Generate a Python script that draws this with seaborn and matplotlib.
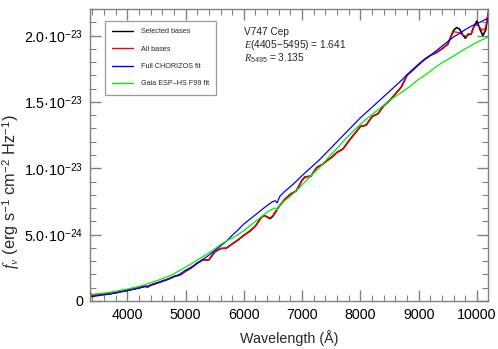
import numpy as np
import pandas as pd
import matplotlib
matplotlib.use("Agg")
import matplotlib.pyplot as plt
import seaborn as sns
from matplotlib.ticker import MultipleLocator, FuncFormatter

# ---- data (flux in units of 1e-24 erg s^-1 cm^-2 Hz^-1) ----
SCALE = 1e-24

wl_sel = [3360, 3400, 3500, 3550, 3600, 3700, 3800, 3900, 4000, 4100, 4200, 4300, 4350, 4400,
          4500, 4600, 4700, 4800, 4900, 5000, 5100, 5200, 5300, 5400, 5500, 5600, 5700, 5800,
          5900, 6000, 6100, 6200, 6300, 6350, 6450, 6500, 6600, 6700, 6800, 6900, 7000, 7050,
          7150, 7250, 7350, 7450, 7500, 7600, 7700, 7800, 7900, 8000, 8100, 8200, 8300, 8400,
          8500, 8600, 8700, 8800, 8900, 9000, 9100, 9200, 9300, 9400, 9500, 9550, 9600, 9650,
          9700, 9750, 9800, 9850, 9900, 9950, 10000, 10050, 10100, 10150, 10200]
flux_sel = [0.60, 0.40, 0.47, 0.53, 0.50, 0.55, 0.62, 0.72, 0.80, 0.90, 1.00, 1.12, 1.05, 1.20,
            1.35, 1.50, 1.65, 1.85, 1.95, 2.25, 2.50, 2.85, 3.10, 3.10, 3.70, 3.95, 3.98, 4.30,
            4.60, 4.95, 5.25, 5.65, 6.30, 6.45, 6.20, 6.40, 7.10, 7.65, 8.05, 8.30, 9.10, 9.35,
            9.40, 10.05, 10.30, 10.65, 10.80, 11.20, 11.45, 12.05, 12.60, 13.15, 13.25, 13.90, 14.10, 14.70,
            15.10, 15.60, 16.10, 17.00, 17.40, 17.80, 18.20, 18.50, 18.70, 19.00, 19.35, 19.90, 20.40, 20.60,
            20.50, 20.10, 19.80, 20.10, 20.10, 20.70, 21.10, 20.50, 20.00, 20.40, 21.80]

wl_all = [3360, 3400, 3500, 3550, 3600, 3700, 3800, 3900, 4000, 4100, 4200, 4300, 4350, 4400,
          4500, 4600, 4700, 4800, 4900, 5000, 5100, 5200, 5300, 5400, 5500, 5600, 5700, 5800,
          5900, 6000, 6100, 6200, 6300, 6350, 6450, 6500, 6600, 6700, 6800, 6900, 7000, 7050,
          7150, 7250, 7350, 7450, 7500, 7600, 7700, 7800, 7900, 8000, 8100, 8200, 8300, 8400,
          8500, 8600, 8700, 8800, 8900, 9000, 9100, 9200, 9300, 9400, 9500, 9550, 9600, 9700,
          9800, 9900, 9950, 10000, 10050, 10100, 10150, 10200]
flux_all = [0.68, 0.42, 0.48, 0.55, 0.50, 0.55, 0.62, 0.72, 0.80, 0.90, 1.00, 1.12, 1.05, 1.20,
            1.35, 1.50, 1.65, 1.85, 1.95, 2.25, 2.50, 2.85, 3.10, 3.10, 3.70, 3.95, 3.98, 4.30,
            4.60, 4.95, 5.25, 5.65, 6.30, 6.45, 6.25, 6.45, 7.10, 7.65, 8.05, 8.30, 9.10, 9.35,
            9.40, 10.05, 10.30, 10.65, 10.80, 11.20, 11.45, 12.05, 12.60, 13.15, 13.25, 13.90, 14.10, 14.70,
            15.10, 15.60, 16.10, 17.00, 17.40, 17.80, 18.20, 18.50, 18.70, 19.00, 19.35, 19.85, 20.30, 20.20,
            19.95, 20.10, 20.70, 20.80, 20.60, 20.40, 20.60, 22.00]

wl_fit = [3360, 3400, 3500, 3600, 3700, 3800, 3900, 4000, 4100, 4200, 4300, 4400, 4500, 4600,
          4700, 4800, 4900, 5000, 5100, 5200, 5300, 5400, 5500, 5600, 5700, 5800, 5900, 6000,
          6100, 6200, 6300, 6400, 6500, 6540, 6570, 6620, 6700, 6800, 6900, 7000, 7100, 7200, 7300,
          7400, 7500, 7600, 7700, 7800, 7900, 8000, 8100, 8200, 8300, 8400, 8500, 8600, 8700,
          8800, 8900, 9000, 9100, 9200, 9300, 9400, 9500, 9600, 9700, 9800, 9900, 10000, 10100, 10200]
flux_chorizos = [0.30, 0.33, 0.40, 0.46, 0.53, 0.60, 0.70, 0.78, 0.87, 0.97, 1.07, 1.18, 1.32, 1.47,
                 1.63, 1.82, 2.02, 2.32, 2.55, 2.85, 3.15, 3.45, 3.80, 4.15, 4.50, 4.95, 5.35, 5.80,
                 6.15, 6.50, 6.85, 7.20, 7.50, 7.55, 7.40, 7.90, 8.25, 8.62, 9.02, 9.45, 9.85, 10.25, 10.65,
                 11.10, 11.55, 12.00, 12.45, 12.90, 13.35, 13.80, 14.20, 14.60, 15.00, 15.40, 15.80, 16.20, 16.60,
                 17.05, 17.45, 17.85, 18.20, 18.50, 18.85, 19.20, 19.55, 19.90, 20.15, 20.45, 20.70, 20.90, 21.10, 21.35]
flux_gaia = [0.50, 0.50, 0.55, 0.60, 0.66, 0.74, 0.82, 0.90, 1.00, 1.10, 1.22, 1.38, 1.52, 1.68,
             1.85, 2.05, 2.30, 2.55, 2.80, 3.08, 3.35, 3.62, 3.92, 4.25, 4.52, 4.75, 5.00, 5.30,
             5.65, 6.00, 6.35, 6.70, 6.95, 7.00, 6.88, 7.25, 7.55, 7.90, 8.30, 8.75, 9.20, 9.65, 10.05,
             10.55, 11.05, 11.50, 12.00, 12.45, 12.90, 13.30, 13.70, 14.05, 14.40, 14.75, 15.10, 15.40, 15.70,
             16.00, 16.35, 16.70, 17.00, 17.30, 17.65, 17.95, 18.20, 18.45, 18.75, 19.00, 19.25, 19.50, 19.70, 19.90]

series_names = ["Selected bases", "All bases", "Full CHORIZOS fit", "Gaia ESP\u2013HS F99 fit"]
series_colors = ["#000000", "#ff0000", "#0000ff", "#00ee00"]

frames = [
    pd.DataFrame({"wl": wl_sel, "flux": np.array(flux_sel) * SCALE, "series": series_names[0]}),
    pd.DataFrame({"wl": wl_all, "flux": np.array(flux_all) * SCALE, "series": series_names[1]}),
    pd.DataFrame({"wl": wl_fit, "flux": np.array(flux_chorizos) * SCALE, "series": series_names[2]}),
    pd.DataFrame({"wl": wl_fit, "flux": np.array(flux_gaia) * SCALE, "series": series_names[3]}),
]
df = pd.concat(frames, ignore_index=True)

# ---- style ----
sns.set_style("ticks")
plt.rcParams["font.family"] = ["Liberation Sans", "DejaVu Sans"]
plt.rcParams["mathtext.fontset"] = "custom"
plt.rcParams["mathtext.rm"] = "Liberation Sans"
plt.rcParams["mathtext.it"] = "Liberation Serif:italic"
plt.rcParams["mathtext.bf"] = "Liberation Sans:bold"

fig = plt.figure(figsize=(4.98, 3.49), dpi=100)
ax = fig.add_axes([90 / 498, 48 / 349, 398 / 498, 292 / 349])

lw = [1.2, 0.9, 0.9, 0.9]
for name, col, w in zip(series_names, series_colors, lw):
    sub = df[df["series"] == name]
    sns.lineplot(data=sub, x="wl", y="flux", color=col, lw=w, ax=ax,
                 sort=False, estimator=None, label=name)

ax.set_xlim(3360, 10190)
ax.set_ylim(0, 2.2e-23)

ax.xaxis.set_major_locator(MultipleLocator(1000))
ax.xaxis.set_minor_locator(MultipleLocator(200))
ax.yaxis.set_major_locator(MultipleLocator(5e-24))
ax.yaxis.set_minor_locator(MultipleLocator(1e-24))


def yfmt(v, pos):
    if abs(v) < 1e-30:
        return "0"
    e = int(np.floor(np.log10(abs(v))))
    m = v / 10 ** e
    return f"{m:.1f}\u00b710$^{{{e}}}$"


ax.yaxis.set_major_formatter(FuncFormatter(yfmt))

spine_col = "#808080"
for s in ax.spines.values():
    s.set_color(spine_col)
    s.set_linewidth(1.0)
ax.tick_params(which="both", direction="in", top=True, right=True, color=spine_col,
               labelsize=10.3, labelcolor="black")
ax.tick_params(which="major", length=8, width=1.0, pad=5)
ax.tick_params(which="minor", length=4.5, width=0.8)

ax.set_xlabel("Wavelength (\u00c5)", fontsize=10.3, labelpad=6)
ax.set_ylabel(r"$f_\nu$ (erg s$^{-1}$ cm$^{-2}$ Hz$^{-1}$)", fontsize=11.8)
ax.yaxis.set_label_coords(-0.172, 0.375)

leg = ax.legend(loc="upper left", bbox_to_anchor=(15 / 398, 1 - 12 / 292), fontsize=5.2,
                frameon=True, fancybox=False, handlelength=2.9, handletextpad=1.1,
                labelspacing=1.43, borderpad=1.0, borderaxespad=0)
leg.get_frame().set_edgecolor("#808080")
leg.get_frame().set_linewidth(0.9)
for h in leg.get_lines():
    h.set_linewidth(1.0)

tx = (244 - 90) / 398
ax.text(tx, (301 - 32) / 292, "V747 Cep", transform=ax.transAxes, fontsize=7.3, va="center", ha="left")
ax.text(tx, (301 - 45) / 292, "$E$(4405\u22125495) = 1.641", transform=ax.transAxes, fontsize=7.3,
        va="center", ha="left")
ax.text(tx, (301 - 58) / 292, "$R_{5495}$ = 3.135", transform=ax.transAxes, fontsize=7.3,
        va="center", ha="left")

fig.savefig("out.png", dpi=100)
